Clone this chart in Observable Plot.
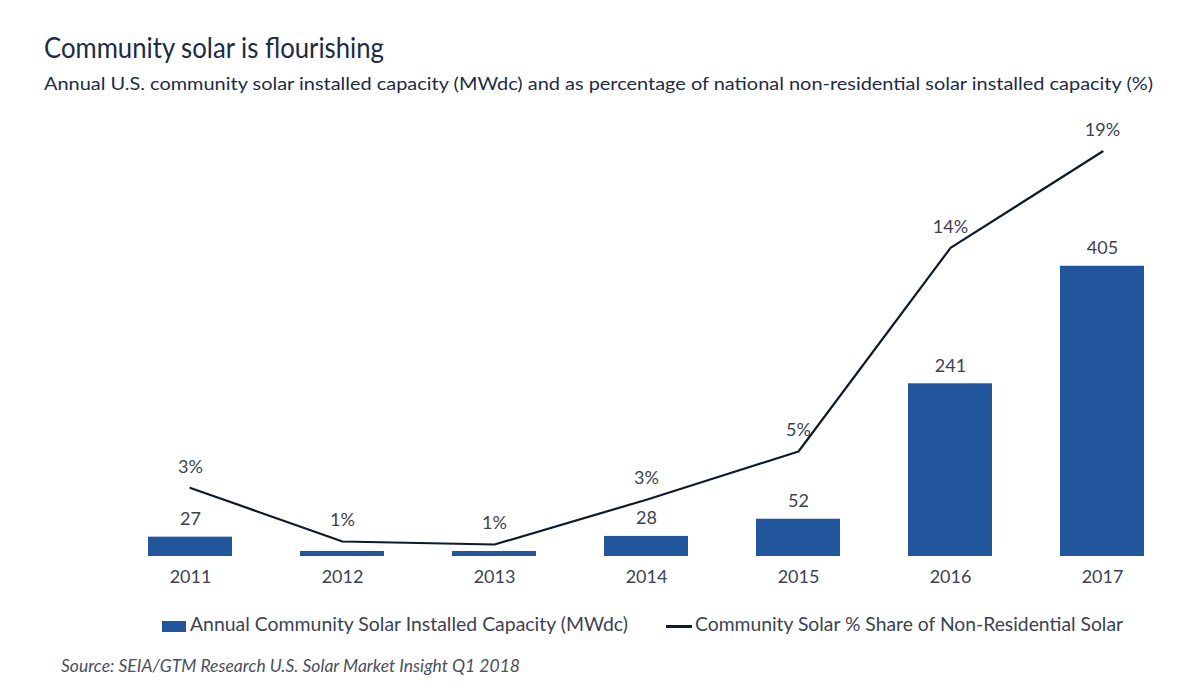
<!DOCTYPE html>
<html>
<head>
<meta charset="utf-8">
<script src="https://cdn.jsdelivr.net/npm/d3@7"></script>
<script src="https://cdn.jsdelivr.net/npm/@observablehq/plot@0.6"></script>
<style>
  html, body { margin: 0; padding: 0; background: #ffffff; }
  #wrap { position: relative; width: 1200px; height: 699px; overflow: hidden; font-family: Lato, "Open Sans", sans-serif; }
  .t { position: absolute; white-space: nowrap; line-height: 1; transform-origin: 0 0; }
  #title { color: #1d2b46; }
  #subtitle { color: #1d2b46; }
  .leg { color: #3c4250; }
  #source { color: #4a4f5a; font-style: italic; }
  #chart { position: absolute; left: 0; top: 110px; }
  .sw { position: absolute; }
</style>
</head>
<body>
<div id="wrap">
  <div id="title" class="t">Community solar is flourishing</div>
  <div id="subtitle" class="t">Annual U.S. community solar installed capacity (MWdc) and as percentage of national non-residential solar installed capacity (%)</div>
  <div id="chart"></div>
  <div class="sw" style="left:162px;top:621px;width:24px;height:11px;background:#22569c;"></div>
  <div id="leg1" class="t leg">Annual Community Solar Installed Capacity (MWdc)</div>
  <div class="sw" style="left:666px;top:625px;width:26px;height:2.5px;background:#0e1a2b;"></div>
  <div id="leg2" class="t leg">Community Solar % Share of Non-Residential Solar</div>
  <div id="source" class="t">Source: SEIA/GTM Research U.S. Solar Market Insight Q1 2018</div>
</div>
<script>
// ---- data ----
const years = ["2011", "2012", "2013", "2014", "2015", "2016", "2017"];
const capacityMW = [27, 7, 7, 28, 52, 241, 405];
const capacityLabelShown = [true, false, false, true, true, true, true];
const sharePct = [3.2, 0.7, 0.56, 2.65, 4.9, 14.4, 18.9];

// secondary (percent) axis expressed in primary-axis units
const PCT_TO_MW = 29.9;

const data = years.map((year, i) => ({
  year,
  mw: capacityMW[i],
  showLabel: capacityLabelShown[i],
  pct: sharePct[i]
}));

const textColor = "#3c4250";
const chart = Plot.plot({
  width: 1200,
  height: 490,
  marginLeft: 114,
  marginRight: 22,
  marginTop: 16,
  marginBottom: 44,
  style: { fontFamily: "Lato, 'Open Sans', sans-serif", background: "transparent", overflow: "visible" },
  x: { domain: years, paddingInner: 0.45, paddingOuter: 0.225 },
  y: { domain: [0, 600], axis: null },
  marks: [
    Plot.barY(data, { x: "year", y: "mw", fill: "#22569c" }),
    Plot.text(data.filter(d => d.showLabel), {
      x: "year", y: "mw", text: d => String(d.mw), dy: -18,
      fontSize: 18, fill: textColor, lineAnchor: "middle"
    }),
    Plot.line(data, { x: "year", y: d => d.pct * PCT_TO_MW, stroke: "#0e1a2b", strokeWidth: 2.2 }),
    Plot.text(data, {
      x: "year", y: d => d.pct * PCT_TO_MW, text: d => Math.round(d.pct) + "%", dy: -21,
      fontSize: 18, fill: textColor, lineAnchor: "middle"
    }),
    Plot.axisX({ tickSize: 0, tickPadding: 14, fontSize: 18, color: textColor, label: null })
  ]
});
document.getElementById("chart").appendChild(chart);

// ---- text layout: cap height sets size, horizontal scale fits width ----
function place(id, left, width, baseline, capHeight) {
  const el = document.getElementById(id);
  const size = capHeight / 0.72;
  el.style.fontSize = size + "px";
  el.style.left = left + "px";
  el.style.top = (baseline - 0.887 * size) + "px";
  const w = el.getBoundingClientRect().width;
  el.style.transform = "scaleX(" + (width / w) + ")";
}
place("title", 44, 340, 58, 20.5);
place("subtitle", 44, 1109, 90, 13);
place("leg1", 190, 438, 632, 13.5);
place("leg2", 695, 428, 632, 13.5);
place("source", 61, 459, 672, 13);
</script>
</body>
</html>
